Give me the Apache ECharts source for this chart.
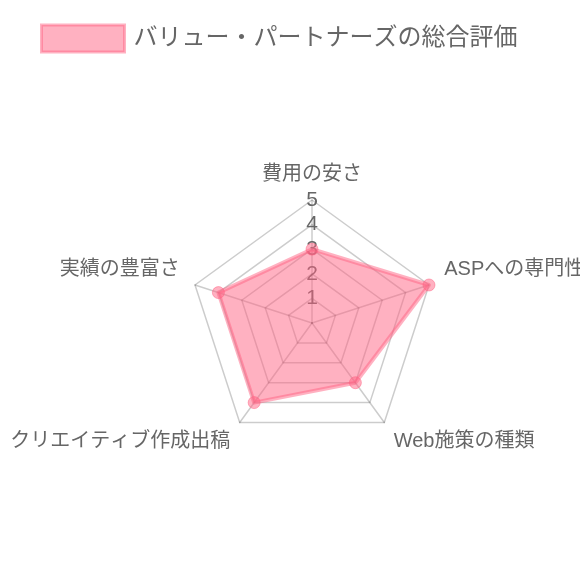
<!DOCTYPE html>
<html>
<head>
<meta charset="utf-8">
<script src="https://cdn.jsdelivr.net/npm/echarts@6/dist/echarts.min.js"></script>
<style>
html,body{margin:0;padding:0;background:#fff;}
#chart{width:580px;height:580px;}
</style>
</head>
<body>
<div id="chart"></div>
<script>
// Values listed clockwise starting at the top axis
const indicatorNames = ['費用の安さ', 'ASPへの専門性', 'Web施策の種類', 'クリエイティブ作成出稿', '実績の豊富さ'];
const seriesName = 'バリュー・パートナーズの総合評価';
const seriesValues = [3, 5, 3, 4, 4];
const tickValues = [1, 2, 3, 4, 5];
const maxValue = 5;

const FONT = '"Liberation Sans", "Noto Sans CJK JP", sans-serif';
const CENTER = [312, 323];
const RADIUS = 123;
const nameStyle = ['top', 'up', 'down', 'down', 'up'];

// ECharts radar runs counter-clockwise; reorder so the chart reads clockwise
const order = [0, 4, 3, 2, 1];
const ccwNames = order.map(i => indicatorNames[i]);
const ccwValues = order.map(i => seriesValues[i]);

const chart = echarts.init(document.getElementById('chart'), null, {renderer: 'canvas'});
chart.setOption({
  animation: false,
  backgroundColor: '#fff',
  textStyle: {fontFamily: FONT},
  legend: {
    data: [seriesName],
    left: 35,
    top: 18.5,
    icon: 'rect',
    itemWidth: 83,
    itemHeight: 27,
    itemStyle: {borderColor: 'rgba(255,99,132,0.5)', borderWidth: 3},
    textStyle: {fontSize: 24, color: '#666', fontFamily: FONT, padding: [0, 0, 0, 4]}
  },
  radar: {
    center: CENTER,
    radius: RADIUS,
    startAngle: 90,
    splitNumber: 5,
    shape: 'polygon',
    indicator: ccwNames.map(n => ({name: n, min: 0, max: maxValue})),
    nameGap: 16,
    axisName: {
      color: '#666',
      fontSize: 20,
      fontFamily: FONT,
      formatter: function (name) {
        const i = indicatorNames.indexOf(name);
        return '{' + nameStyle[i] + '|' + name + '}';
      },
      rich: {
        top: {fontSize: 20, color: '#666', fontFamily: FONT},
        up: {fontSize: 20, color: '#666', fontFamily: FONT, padding: [0, 0, 22, 0]},
        down: {fontSize: 20, color: '#666', fontFamily: FONT, padding: [12, 0, 0, 0]}
      }
    },
    axisLine: {lineStyle: {color: 'rgba(0,0,0,0.2)', width: 1.5}},
    splitLine: {lineStyle: {color: 'rgba(0,0,0,0.2)', width: 1.5}},
    splitArea: {show: false},
    axisTick: {show: false},
    axisLabel: {show: false}
  },
  polar: {center: CENTER, radius: RADIUS},
  angleAxis: {
    type: 'value', min: 0, max: 360, startAngle: 90, show: false
  },
  radiusAxis: {
    type: 'value', min: 0, max: maxValue, interval: 1,
    axisLine: {show: false}, axisTick: {show: false}, splitLine: {show: false},
    axisLabel: {
      show: true, margin: 0, align: 'center', verticalAlign: 'middle',
      fontSize: 21, color: '#666', fontFamily: FONT, showMinLabel: false,
      padding: [0, 0, 5, 0],
      formatter: function (v) { return tickValues.indexOf(v) >= 0 ? String(v) : ''; }
    },
    z: 0
  },
  series: [{
    type: 'radar',
    name: seriesName,
    symbol: 'circle',
    symbolSize: 12,
    itemStyle: {color: 'rgba(255,99,132,0.5)', borderColor: 'rgba(255,99,132,0.5)', borderWidth: 1},
    lineStyle: {color: 'rgba(255,99,132,0.5)', width: 4},
    areaStyle: {color: 'rgba(255,99,132,0.5)', opacity: 1},
    z: 2,
    data: [{value: ccwValues, name: seriesName}]
  }]
});
</script>
</body>
</html>
